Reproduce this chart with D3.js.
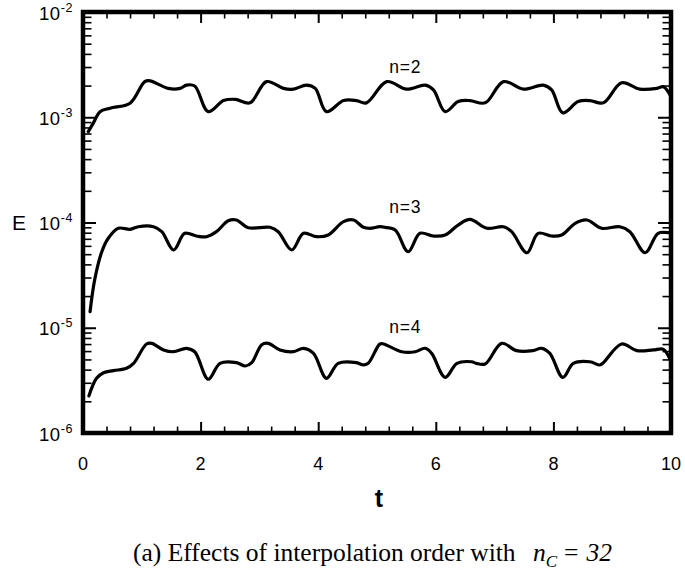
<!DOCTYPE html>
<html>
<head>
<meta charset="utf-8">
<script src="https://cdn.jsdelivr.net/npm/d3@7/dist/d3.min.js"></script>
<style>
  html, body { margin: 0; padding: 0; background: #fff; }
  svg { display: block; }
</style>
</head>
<body>
<svg id="chart" width="685" height="570"></svg>
<script>
// ---------------- data ----------------
const t2 = [0.09,0.175,0.29,0.46,0.80,1.05,1.14,1.45,1.65,1.76,1.90,2.13,2.39,2.59,2.84,3.12,3.41,3.58,3.80,3.95,4.14,4.43,4.65,4.82,5.165,5.505,5.82,5.96,6.16,6.38,6.58,6.84,7.15,7.49,7.83,7.97,8.16,8.42,8.62,8.85,9.16,9.47,9.76,9.87,10.0];
const e2 = [7.3e-4,8.8e-4,1.13e-3,1.22e-3,1.36e-3,2.18e-3,2.22e-3,1.88e-3,1.88e-3,2.02e-3,1.98e-3,1.13e-3,1.44e-3,1.48e-3,1.37e-3,2.18e-3,1.88e-3,1.85e-3,2.02e-3,1.88e-3,1.13e-3,1.44e-3,1.44e-3,1.37e-3,2.18e-3,1.85e-3,2.02e-3,1.82e-3,1.13e-3,1.41e-3,1.44e-3,1.37e-3,2.18e-3,1.85e-3,2.02e-3,1.82e-3,1.10e-3,1.41e-3,1.44e-3,1.37e-3,2.13e-3,1.85e-3,1.88e-3,1.95e-3,1.57e-3];

const t3 = [0.12,0.20,0.32,0.43,0.60,0.80,0.94,1.20,1.34,1.54,1.73,1.93,2.10,2.27,2.47,2.61,2.81,3.18,3.32,3.55,3.75,3.97,4.17,4.43,4.60,4.77,4.88,5.05,5.14,5.31,5.53,5.73,5.96,6.16,6.38,6.58,6.87,7.15,7.29,7.55,7.74,7.97,8.14,8.37,8.57,8.82,9.13,9.30,9.56,9.78,9.95];
const e3 = [1.42e-5,2.88e-5,5.28e-5,7.08e-5,8.81e-5,8.62e-5,9.12e-5,9.12e-5,8.18e-5,5.48e-5,7.89e-5,7.44e-5,7.33e-5,8.18e-5,1.04e-4,1.056e-4,8.93e-5,9.0e-5,8.18e-5,5.48e-5,7.89e-5,7.33e-5,7.6e-5,1.02e-4,1.056e-4,9.0e-5,8.81e-5,9.12e-5,9.0e-5,8.49e-5,5.28e-5,7.89e-5,7.44e-5,7.6e-5,9.46e-5,1.07e-4,8.81e-5,9.12e-5,8.18e-5,5.16e-5,7.89e-5,7.44e-5,7.6e-5,9.82e-5,1.056e-4,8.81e-5,9.12e-5,8.18e-5,5.16e-5,7.89e-5,8.0e-5];

const t4 = [0.10,0.23,0.35,0.52,0.74,0.86,1.08,1.17,1.37,1.54,1.76,1.90,2.13,2.33,2.61,2.76,2.87,3.04,3.15,3.35,3.58,3.75,3.92,4.14,4.34,4.65,4.77,4.85,5.05,5.11,5.42,5.65,5.82,5.93,6.16,6.36,6.61,6.69,6.84,7.12,7.37,7.65,7.80,7.94,8.16,8.34,8.62,8.79,8.85,9.16,9.42,9.70,9.87,10.0];
const e4 = [2.25e-6,3.31e-6,3.74e-6,3.91e-6,4.12e-6,4.59e-6,7.01e-6,7.11e-6,6.15e-6,5.92e-6,6.38e-6,5.92e-6,3.24e-6,4.59e-6,4.66e-6,4.33e-6,4.66e-6,6.9e-6,7.11e-6,6.15e-6,5.92e-6,6.38e-6,5.71e-6,3.31e-6,4.59e-6,4.66e-6,4.43e-6,4.59e-6,7.01e-6,7.01e-6,5.92e-6,5.92e-6,6.38e-6,5.71e-6,3.38e-6,4.59e-6,4.75e-6,4.59e-6,4.53e-6,7.11e-6,6.06e-6,6.06e-6,6.38e-6,5.71e-6,3.38e-6,4.59e-6,4.75e-6,4.43e-6,4.66e-6,7.01e-6,6.06e-6,6.15e-6,6.24e-6,4.75e-6];

const seriesNames = ["n=2", "n=3", "n=4"];
const seriesLabelT = [5.48, 5.48, 5.48];
const seriesLabelE = [2.63e-3, 1.23e-4, 8.9e-6];

const xTicks = [0, 2, 4, 6, 8, 10];
const xMinorTicks = [0.4,0.8,1.2,1.6,2.4,2.8,3.2,3.6,4.4,4.8,5.2,5.6,6.4,6.8,7.2,7.6,8.4,8.8,9.2,9.6];
const yDecades = [1e-6, 1e-5, 1e-4, 1e-3, 1e-2];
const yDecadeExp = ["-6", "-5", "-4", "-3", "-2"];

const xLabel = "t";
const yLabel = "E";
const captionText = "(a) Effects of interpolation order with";

// ---------------- drawing ----------------
const svg = d3.select("#chart");
const L = 83, R = 671, T = 12, B = 433;

const x = d3.scaleLinear().domain([0, 10]).range([L, R]);
const y = d3.scaleLog().domain([1e-6, 1e-2]).range([B, T]);

const yMinor = y.ticks().filter(v => !yDecades.some(d => Math.abs(v / d - 1) < 1e-6));

const sans = "'Liberation Sans', Arial, Helvetica, sans-serif";
const serif = "'Liberation Serif', 'Times New Roman', serif";

function axisGroup(axis, tx, ty, width) {
  const g = svg.append("g").attr("transform", `translate(${tx},${ty})`).call(axis);
  g.select(".domain").remove();
  g.selectAll("line").attr("stroke", "#000").attr("stroke-width", width);
  g.selectAll("text").remove();
  return g;
}

// x major / minor ticks, bottom (inward) and top (inward)
axisGroup(d3.axisBottom(x).tickValues(xTicks).tickSize(-11), 0, B, 2);
axisGroup(d3.axisBottom(x).tickValues(xMinorTicks).tickSize(-6.5), 0, B, 1.6);
axisGroup(d3.axisTop(x).tickValues(xTicks).tickSize(-11), 0, T, 2);
axisGroup(d3.axisTop(x).tickValues(xMinorTicks).tickSize(-6.5), 0, T, 1.6);
// y major / minor ticks, left and right (inward)
axisGroup(d3.axisLeft(y).tickValues(yDecades).tickSize(-13), L, 0, 2);
axisGroup(d3.axisLeft(y).tickValues(yMinor).tickSize(-8.5), L, 0, 1.6);
axisGroup(d3.axisRight(y).tickValues(yDecades).tickSize(-13), R, 0, 2);
axisGroup(d3.axisRight(y).tickValues(yMinor).tickSize(-8.5), R, 0, 1.6);

// frame
svg.append("rect")
  .attr("x", L).attr("y", T).attr("width", R - L).attr("height", B - T)
  .attr("fill", "none").attr("stroke", "#000").attr("stroke-width", 4.5);

// x tick labels
svg.append("g").selectAll("text").data(xTicks).join("text")
  .attr("x", d => x(d)).attr("y", B + 37)
  .attr("text-anchor", "middle")
  .attr("font-family", sans).attr("font-size", 18)
  .text(d => d);

// y tick labels 10^n
const yl = svg.append("g").selectAll("text").data(yDecades).join("text")
  .attr("x", 73).attr("y", d => y(d) + 7.5)
  .attr("text-anchor", "end")
  .attr("font-family", sans).attr("font-size", 18.5)
  .attr("letter-spacing", 0.6);
yl.append("tspan").text("10");
yl.append("tspan").attr("font-size", 12.5).attr("dy", -8).text((d, i) => yDecadeExp[i]);

// axis titles
svg.append("text").attr("x", 379).attr("y", 507)
  .attr("text-anchor", "middle").attr("font-family", sans)
  .attr("font-weight", "bold").attr("font-size", 25).text(xLabel);
svg.append("text").attr("x", 19).attr("y", 230)
  .attr("text-anchor", "middle").attr("font-family", sans)
  .attr("font-size", 21).text(yLabel);

// curves
const series = [
  { t: t2, e: e2 },
  { t: t3, e: e3 },
  { t: t4, e: e4 }
];
const line = d3.line()
  .x(d => x(d[0])).y(d => y(d[1]))
  .curve(d3.curveCatmullRom.alpha(0.5));

const clip = svg.append("clipPath").attr("id", "plotclip");
clip.append("rect").attr("x", L).attr("y", T).attr("width", R - L).attr("height", B - T);

svg.append("g").attr("clip-path", "url(#plotclip)")
  .selectAll("path").data(series).join("path")
  .attr("d", s => line(s.t.map((tv, i) => [tv, s.e[i]])))
  .attr("fill", "none").attr("stroke", "#000")
  .attr("stroke-width", 3.2).attr("stroke-linejoin", "round").attr("stroke-linecap", "round");

// series labels
svg.append("g").selectAll("text").data(seriesNames).join("text")
  .attr("x", (d, i) => x(seriesLabelT[i])).attr("y", (d, i) => y(seriesLabelE[i]))
  .attr("text-anchor", "middle")
  .attr("font-family", sans).attr("font-size", 17.5)
  .attr("letter-spacing", 0.7)
  .text(d => d);

// caption
const cap = svg.append("text").attr("x", 133).attr("y", 561)
  .attr("font-family", serif).attr("font-size", 25.5);
cap.append("tspan").text(captionText);
const cap2 = svg.append("text").attr("x", 533).attr("y", 561)
  .attr("font-family", serif).attr("font-size", 25.5);
cap2.append("tspan").attr("font-style", "italic").text("n");
cap2.append("tspan").attr("font-style", "italic").attr("font-size", 17).attr("dy", 6).text("C");
cap2.append("tspan").attr("dy", -6).attr("dx", 7).text("=");
cap2.append("tspan").attr("font-style", "italic").attr("dx", 8).text("32");
</script>
</body>
</html>
